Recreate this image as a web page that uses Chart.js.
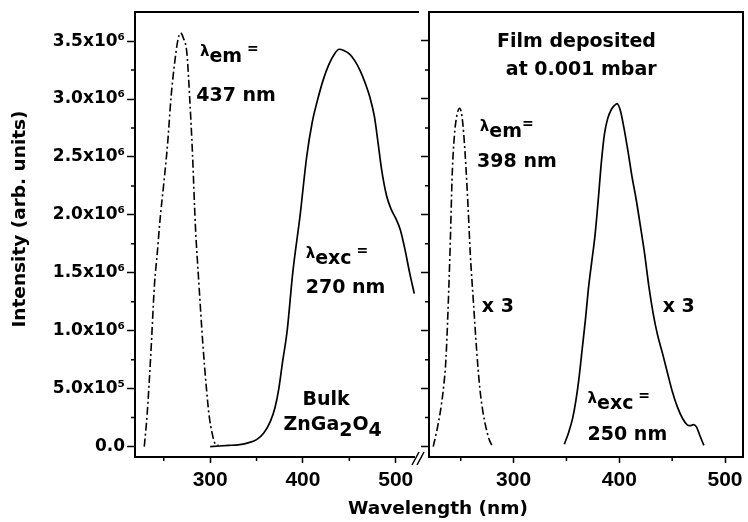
<!DOCTYPE html>
<html>
<head>
<meta charset="utf-8">
<script src="https://cdn.jsdelivr.net/npm/chart.js@4.4.1/dist/chart.umd.min.js"></script>
<style>
  html, body { margin: 0; padding: 0; background: #fff; }
  #wrap { position: relative; width: 748px; height: 522px; }
  #wrap canvas { position: absolute; left: 0; top: 0; }
</style>
</head>
<body>
<div id="wrap">
  <canvas id="bulk" width="748" height="522"></canvas>
  <canvas id="film" width="748" height="522"></canvas>
</div>
<script>
// Bulk ZnGa2O4: excitation (monitored at 437 nm) and emission (excited at 270 nm)
const bulkExcNm = [229, 232, 236, 240, 243, 246, 250, 254, 258, 262, 265, 268, 271, 275, 278, 281, 284, 288, 292, 296, 299, 302, 305, 309];
const bulkExcI = [0, 0.27e6, 0.79e6, 1.40e6, 1.67e6, 1.96e6, 2.27e6, 2.60e6, 3.03e6, 3.33e6, 3.50e6, 3.57e6, 3.53e6, 3.39e6, 3.00e6, 2.52e6, 1.92e6, 1.39e6, 0.90e6, 0.50e6, 0.26e6, 0.12e6, 0.03e6, 0.01e6];
const bulkEmNm = [300, 310, 320, 330, 340, 350, 358, 365, 370, 374, 378, 383, 389, 397, 404, 410, 416, 422, 428, 434, 439, 444, 450, 456, 462, 467, 472, 477, 481, 485, 490, 495, 500, 505, 510, 515, 520];
const bulkEmI = [0, 0.005e6, 0.01e6, 0.015e6, 0.03e6, 0.06e6, 0.12e6, 0.22e6, 0.34e6, 0.50e6, 0.73e6, 1.00e6, 1.50e6, 2.00e6, 2.50e6, 2.80e6, 3.00e6, 3.17e6, 3.30e6, 3.39e6, 3.43e6, 3.42e6, 3.39e6, 3.33e6, 3.24e6, 3.14e6, 3.02e6, 2.85e6, 2.62e6, 2.38e6, 2.17e6, 2.05e6, 1.97e6, 1.87e6, 1.70e6, 1.50e6, 1.32e6];

// Film deposited at 0.001 mbar (both curves x 3)
const filmExcNm = [224, 226, 229, 232, 234, 236, 238, 240, 242, 244, 246, 249, 251, 253, 255, 257, 259, 262, 265, 268, 271, 274, 277, 280];
const filmExcI = [0, 0.08e6, 0.21e6, 0.38e6, 0.53e6, 0.75e6, 1.18e6, 1.72e6, 2.36e6, 2.68e6, 2.84e6, 2.92e6, 2.86e6, 2.68e6, 2.40e6, 2.06e6, 1.67e6, 1.25e6, 0.84e6, 0.51e6, 0.30e6, 0.16e6, 0.06e6, 0];
const filmEmNm = [348, 352, 356, 359, 362, 365, 368, 371, 374, 377, 380, 383, 386, 389, 392, 395, 398, 401, 404, 408, 412, 416, 420, 424, 428, 432, 436, 441, 446, 450, 455, 460, 464, 467, 470, 473, 476, 480];
const filmEmI = [0.02e6, 0.12e6, 0.25e6, 0.40e6, 0.60e6, 0.85e6, 1.10e6, 1.38e6, 1.60e6, 1.82e6, 2.12e6, 2.45e6, 2.70e6, 2.83e6, 2.90e6, 2.94e6, 2.96e6, 2.90e6, 2.77e6, 2.56e6, 2.33e6, 2.13e6, 1.90e6, 1.66e6, 1.38e6, 1.15e6, 0.97e6, 0.80e6, 0.62e6, 0.48e6, 0.34e6, 0.24e6, 0.19e6, 0.18e6, 0.19e6, 0.17e6, 0.10e6, 0.01e6];

// axis ticks
const xTicks = [300, 400, 500];
const xMinor = [250, 350, 450];
const yTicks = [0, 0.5e6, 1.0e6, 1.5e6, 2.0e6, 2.5e6, 3.0e6, 3.5e6];
const yMinor = [0.25e6, 0.75e6, 1.25e6, 1.75e6, 2.25e6, 2.75e6, 3.25e6];

const FONT = 'DejaVu Sans';
const SUP = { 5: '\u2075', 6: '\u2076' };

function sci(v) {
  if (v === 0) return '0.0';
  const e = Math.floor(Math.log10(v) + 1e-9);
  return (v / Math.pow(10, e)).toFixed(1) + 'x10' + SUP[e];
}

const pts = (xs, ys) => xs.map((x, i) => ({ x, y: ys[i] }));

function line(xs, ys, dashed) {
  return {
    data: pts(xs, ys),
    borderColor: '#000',
    borderWidth: dashed ? 1.6 : 1.7,
    borderDash: dashed ? [8, 3, 2, 3] : [],
    pointRadius: 0,
    cubicInterpolationMode: 'monotone',
    fill: false,
  };
}

// minor ticks + axis break marks
const minorTicks = {
  id: 'minorTicks',
  afterDraw(chart, args, opts) {
    const { ctx, scales: { x, y } } = chart;
    ctx.save();
    ctx.strokeStyle = '#000';
    ctx.lineWidth = 1.5;
    ctx.beginPath();
    xMinor.forEach(v => {
      const px = x.getPixelForValue(v);
      if (px < x.left || px > x.right) return;
      ctx.moveTo(px, x.top);
      ctx.lineTo(px, x.top + 4);
    });
    yMinor.forEach(v => {
      const py = y.getPixelForValue(v);
      ctx.moveTo(y.right, py);
      ctx.lineTo(y.right - 4, py);
    });
    ctx.stroke();
    if (opts.breakMark) {
      const r = chart.chartArea.right, b = chart.chartArea.bottom;
      ctx.fillStyle = '#fff';
      ctx.fillRect(r - 3, b - 3, 10, 6);
      ctx.beginPath();
      ctx.moveTo(r - 6, b + 8); ctx.lineTo(r + 1, b - 5);
      ctx.moveTo(r - 1, b + 8); ctx.lineTo(r + 6, b - 5);
      ctx.stroke();
    }
    ctx.restore();
  }
};

// text labels placed in data units, with sub/superscript runs
const notes = {
  id: 'notes',
  afterDatasetsDraw(chart, args, opts) {
    const { ctx, scales: { x, y } } = chart;
    ctx.save();
    ctx.fillStyle = '#000';
    ctx.textBaseline = 'alphabetic';
    ctx.textAlign = 'left';
    (opts.items || []).forEach(item => {
      const runs = item.runs.map(r => (typeof r === 'string' ? { t: r } : r));
      let w = 0;
      runs.forEach(r => {
        ctx.font = `bold ${r.size || 19}px "${FONT}"`;
        w += ctx.measureText(r.t).width;
      });
      let px = x.getPixelForValue(item.x) - (item.center ? w / 2 : 0);
      const py = y.getPixelForValue(item.y);
      runs.forEach(r => {
        ctx.font = `bold ${r.size || 19}px "${FONT}"`;
        ctx.fillText(r.t, px, py + (r.dy || 0));
        px += ctx.measureText(r.t).width;
      });
    });
    ctx.restore();
  }
};

// rotated y title, shared by both panels
const yCaption = {
  id: 'yCaption',
  afterDraw(chart, args, opts) {
    if (!opts.text) return;
    const { ctx } = chart;
    ctx.save();
    ctx.translate(opts.x, opts.y);
    ctx.rotate(-Math.PI / 2);
    ctx.font = `bold 18.5px "${FONT}"`;
    ctx.fillStyle = '#000';
    ctx.textAlign = 'center';
    ctx.textBaseline = 'middle';
    ctx.fillText(opts.text, 0, 0);
    ctx.restore();
  }
};

const lam = { t: '\u03bb', size: 15, dy: -6 };
const eq = { t: ' =', size: 14, dy: -9 };

function scalesFor(xmin, xmax, yWidth, xHeight, showY, withRight) {
  const frame = { display: true, color: '#000', width: 2 };
  const s = {
    x: {
      type: 'linear', min: xmin, max: xmax,
      afterBuildTicks: sc => { sc.ticks = xTicks.map(v => ({ value: v })); },
      afterFit: sc => { sc.height = xHeight; },
      grid: { drawOnChartArea: false, tickLength: 6, tickWidth: 1.5, tickColor: '#000' },
      border: frame,
      ticks: {
        color: '#000', padding: 5, maxRotation: 0, autoSkip: false,
        font: { family: 'Liberation Sans', size: 21, weight: 'bold' },
        callback: v => String(v),
      },
    },
    top: {
      type: 'linear', position: 'top', min: xmin, max: xmax,
      afterFit: sc => { sc.height = 0; },
      grid: { display: false }, border: frame, ticks: { display: false },
    },
    y: {
      type: 'linear', min: -0.09e6, max: 3.75e6,
      afterBuildTicks: sc => { sc.ticks = yTicks.map(v => ({ value: v })); },
      afterFit: sc => { sc.width = yWidth; },
      grid: { drawOnChartArea: false, tickLength: 8, tickWidth: 1.5, tickColor: '#000' },
      border: frame,
      ticks: {
        display: showY, color: '#000', padding: 2,
        font: { family: FONT, size: 17, weight: 'bold' },
        callback: sci,
      },
    },
  };
  if (withRight) {
    s.right = {
      type: 'linear', position: 'right', min: -0.09e6, max: 3.75e6,
      afterFit: sc => { sc.width = 0; },
      grid: { display: false }, border: frame, ticks: { display: false },
    };
  }
  return s;
}

const common = {
  responsive: false,
  animation: false,
  events: [],
};

new Chart(document.getElementById('bulk'), {
  type: 'line',
  data: {
    datasets: [
      line(bulkExcNm, bulkExcI, true),
      line(bulkEmNm, bulkEmI, false),
    ],
  },
  options: {
    ...common,
    layout: { padding: { left: 0, right: 330, top: 12, bottom: 0 } },
    scales: scalesFor(219, 524, 135, 65, true, false),
    plugins: {
      legend: { display: false },
      tooltip: { enabled: false },
      minorTicks: { breakMark: true },
      yCaption: { text: 'Intensity (arb. units)', x: 20, y: 219 },
      notes: {
        items: [
          { x: 289, y: 3.32e6, runs: [lam, { t: 'em' }, eq] },
          { x: 285, y: 2.98e6, runs: ['437 nm'] },
          { x: 403, y: 1.58e6, runs: [lam, { t: 'exc' }, eq] },
          { x: 403, y: 1.33e6, runs: ['270 nm'] },
          { x: 425, y: 0.36e6, center: true, runs: ['Bulk'] },
          { x: 432, y: 0.14e6, center: true, runs: ['ZnGa', { t: '2', dy: 6 }, 'O', { t: '4', dy: 6 }] },
        ],
      },
    },
  },
  plugins: [minorTicks, notes, yCaption],
});

new Chart(document.getElementById('film'), {
  type: 'line',
  data: {
    datasets: [
      line(filmExcNm, filmExcI, true),
      line(filmEmNm, filmEmI, false),
    ],
  },
  options: {
    ...common,
    layout: { padding: { left: 133, right: 5, top: 12, bottom: 0 } },
    scales: scalesFor(220, 517, 296, 39, false, true),
    plugins: {
      legend: { display: false },
      tooltip: { enabled: false },
      title: {
        display: true, position: 'bottom', text: 'Wavelength (nm)', color: '#000',
        font: { family: FONT, size: 18.5, weight: 'bold', lineHeight: 1 },
        padding: { top: 4, bottom: 3.5 },
      },
      minorTicks: { breakMark: false },
      notes: {
        items: [
          { x: 359.5, y: 3.45e6, center: true, runs: ['Film deposited'] },
          { x: 364, y: 3.21e6, center: true, runs: ['at 0.001 mbar'] },
          { x: 268, y: 2.67e6, runs: [lam, { t: 'em' }, { t: '=', size: 14, dy: -9 }] },
          { x: 265.5, y: 2.41e6, runs: ['398 nm'] },
          { x: 270, y: 1.16e6, runs: ['x 3'] },
          { x: 441, y: 1.16e6, runs: ['x 3'] },
          { x: 370, y: 0.32e6, runs: [lam, { t: 'exc' }, eq] },
          { x: 370, y: 0.06e6, runs: ['250 nm'] },
        ],
      },
    },
  },
  plugins: [minorTicks, notes],
});
</script>
</body>
</html>
